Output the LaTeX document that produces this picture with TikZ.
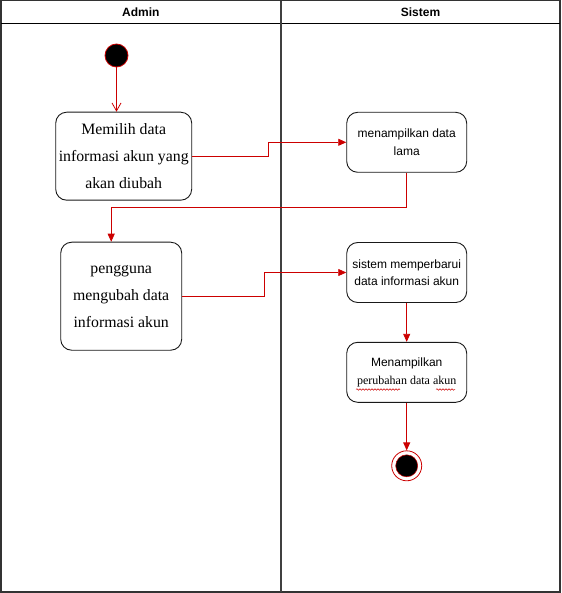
\documentclass[tikz,border=0pt]{standalone}
\usepackage{fontspec}
\setmainfont{Liberation Serif}
\setsansfont{Liberation Sans}
\usetikzlibrary{arrows.meta,decorations.pathmorphing}
\definecolor{lred}{RGB}{204,0,0}
\begin{document}
\begin{tikzpicture}[x=1pt,y=-1pt,
  act/.style={draw=black!90, line width=0.9pt, rounded corners=11pt, align=center, inner sep=0pt},
  serifbox/.style={act, font=\fontsize{15.8}{27}\selectfont},
  sansbox/.style={act, font=\sffamily\fontsize{12}{17.5}\selectfont},
  flow/.style={draw=lred, line width=0.8pt, -{Triangle[length=8pt,width=7pt]}},
  openflow/.style={draw=lred, line width=0.8pt, -{Straight Barb[length=8pt,width=9pt]}},
  lane/.style={font=\sffamily\bfseries\fontsize{12}{14}\selectfont},
  spell/.style={draw=lred, line width=0.5pt, decorate, decoration={snake, amplitude=0.8pt, segment length=3pt}}
]
\useasboundingbox (0,0) rectangle (561,593);
% pool
\draw[black!80, line width=1.2pt] (1,0.6) rectangle (560,592);
\draw[black, line width=0.9pt] (1,23) -- (560,23);
\draw[black!75, line width=1.6pt] (281,0.6) -- (281,592);
\node[lane] (hAdmin) at (140.8,12) {Admin};
\node[lane] (hSistem) at (420.5,12) {Sistem};
% start
\node[circle, fill=black, draw=lred, line width=0.8pt, minimum size=23pt, inner sep=0pt] (start) at (116.5,55.5) {};
% activities
\node[serifbox, minimum width=136pt, minimum height=88pt] (b1) at (123.7,156.2)
  {Memilih data\\informasi akun yang\\akan diubah};
\node[sansbox, minimum width=120pt, minimum height=60pt] (b2) at (406.7,142.3)
  {menampilkan data\\lama};
\node[serifbox, minimum width=121pt, minimum height=108pt] (b3) at (121.2,296.2)
  {pengguna\\mengubah data\\informasi akun};
\node[sansbox, minimum width=120pt, minimum height=60pt] (b4) at (406.7,272.5)
  {sistem memperbarui\\data informasi akun};
\node[sansbox, minimum width=120pt, minimum height=60pt] (b5) at (406.7,372.3)
  {Menampilkan\\{\rmfamily\fontsize{12}{14}\selectfont perubahan data akun}};
% spell-check underlines
\draw[spell] (356,389.5) -- (400,389.5);
\draw[spell] (436,389.5) -- (455,389.5);
% end
\node[circle, draw=lred, line width=0.8pt, minimum size=30pt, inner sep=0pt] (endo) at (406.7,465.8) {};
\node[circle, fill=black, draw=lred, line width=0.5pt, minimum size=22pt, inner sep=0pt] (endi) at (endo.center) {};
% connectors
\draw[openflow] (start) -- (start |- b1.north);
\draw[flow] (b1.east) -- ++(76.6,0) |- (b2.west);
\draw[flow] (b2.south) -- ++(0,35) -| ([xshift=-10pt]b3.north);
\draw[flow] (b3.east) -- ++(82,0) |- (b4.west);
\draw[flow] (b4) -- (b5);
\draw[flow] (b5) -- (endo);
\end{tikzpicture}
\end{document}
